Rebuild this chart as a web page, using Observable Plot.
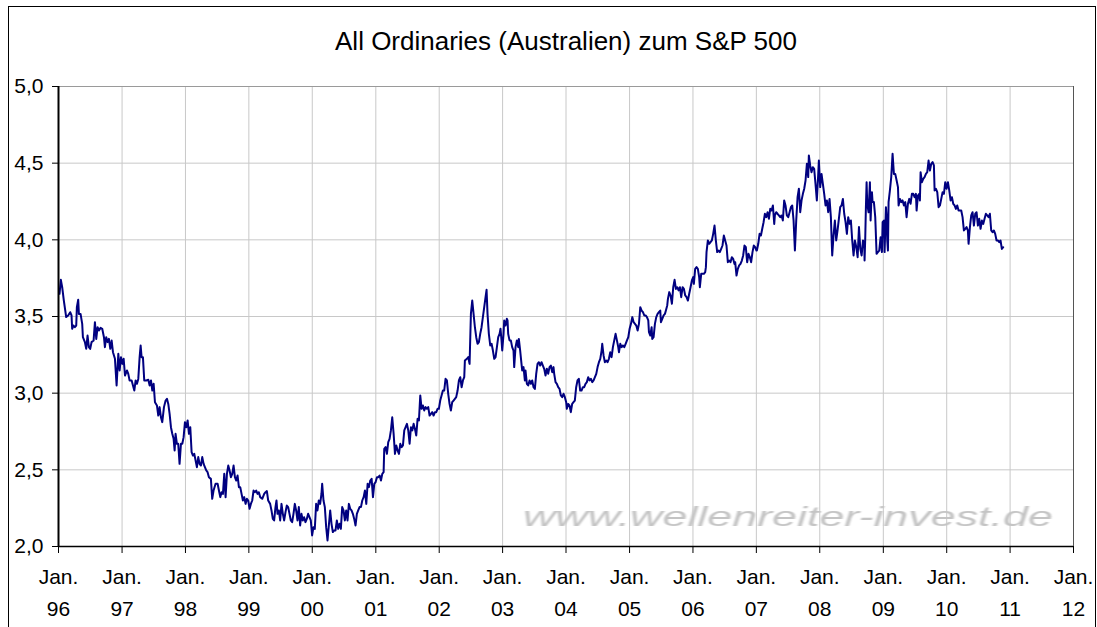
<!DOCTYPE html>
<html>
<head>
<meta charset="utf-8">
<script src="https://cdn.jsdelivr.net/npm/d3@7"></script>
<script src="https://cdn.jsdelivr.net/npm/@observablehq/plot@0.6"></script>
<style>
  html, body { margin: 0; padding: 0; background: #fff; }
  #wrap { position: relative; width: 1097px; height: 627px; overflow: hidden; background: #fff;
          font-family: "Liberation Sans", Arial, sans-serif; }
  .frame { position: absolute; left: 8px; top: 6px; width: 1086px; height: 700px; border: 1px solid #000;
           box-sizing: content-box; pointer-events: none; }
  .title { height: 60px; box-sizing: border-box; padding-top: 26px; padding-left: 35px; line-height: 30px;
           font-size: 26px; text-align: center; color: #000; white-space: nowrap; }
  #chart svg { display: block; }
  .wm { position: absolute; left: 523px; top: 503px; font-size: 27.5px; line-height: 27px; font-style: italic;
        color: #c4c4c4; transform: scaleX(1.63); transform-origin: 0 0; white-space: nowrap;
        filter: blur(0.5px); pointer-events: none; }
</style>
</head>
<body>
<div id="wrap">
  <div class="frame"></div>
  <div class="title">All Ordinaries (Australien) zum S&amp;P 500</div>
  <div id="chart"></div>
  <div class="wm">www.wellenreiter-invest.de</div>
</div>
<script>
// Ratio All Ordinaries / S&P 500, [decimal year, value]
const ratio1996to1999 = [
[1996.016,3.648],[1996.037,3.739],[1996.058,3.691],[1996.084,3.604],[1996.121,3.496],[1996.152,3.507],[1996.184,3.528],[1996.205,3.507],[1996.215,3.420],[1996.236,3.441],
[1996.257,3.430],[1996.279,3.441],[1996.289,3.561],[1996.310,3.609],[1996.321,3.517],[1996.347,3.517],[1996.373,3.452],[1996.384,3.365],[1996.415,3.333],[1996.436,3.289],
[1996.457,3.376],[1996.478,3.300],[1996.499,3.289],[1996.520,3.333],[1996.552,3.343],[1996.573,3.463],[1996.594,3.354],[1996.615,3.430],[1996.636,3.409],[1996.662,3.426],
[1996.688,3.420],[1996.715,3.365],[1996.730,3.300],[1996.751,3.365],[1996.772,3.333],[1996.793,3.354],[1996.815,3.289],[1996.836,3.343],[1996.857,3.267],[1996.888,3.224],
[1996.914,3.050],[1996.941,3.257],[1996.962,3.148],[1996.983,3.235],[1997.004,3.191],[1997.025,3.224],[1997.046,3.115],[1997.077,3.148],[1997.098,3.126],[1997.119,3.083],
[1997.151,3.083],[1997.172,3.050],[1997.193,3.017],[1997.214,3.083],[1997.235,3.061],[1997.256,3.093],[1997.277,3.235],[1997.293,3.311],[1997.308,3.235],[1997.329,3.235],
[1997.350,3.083],[1997.382,3.083],[1997.414,3.087],[1997.435,3.050],[1997.456,3.083],[1997.477,3.017],[1997.498,3.061],[1997.519,2.941],[1997.550,2.920],[1997.571,2.854],
[1997.592,2.909],[1997.613,2.843],[1997.634,2.811],[1997.661,2.909],[1997.687,2.952],[1997.708,2.963],[1997.729,2.930],[1997.750,2.865],[1997.771,2.778],[1997.792,2.735],
[1997.813,2.702],[1997.829,2.626],[1997.844,2.735],[1997.865,2.670],[1997.886,2.670],[1997.907,2.539],[1997.929,2.670],[1997.950,2.670],[1997.971,2.713],[1997.992,2.811],
[1998.013,2.778],[1998.034,2.822],[1998.055,2.735],[1998.076,2.778],[1998.097,2.615],[1998.118,2.593],[1998.139,2.604],[1998.160,2.561],[1998.181,2.517],[1998.202,2.583],
[1998.223,2.539],[1998.244,2.528],[1998.265,2.583],[1998.286,2.539],[1998.307,2.517],[1998.328,2.496],[1998.349,2.485],[1998.370,2.452],[1998.401,2.441],[1998.422,2.311],
[1998.443,2.365],[1998.475,2.409],[1998.507,2.409],[1998.528,2.365],[1998.549,2.322],[1998.570,2.354],[1998.591,2.343],[1998.612,2.474],[1998.633,2.322],[1998.654,2.474],
[1998.675,2.528],[1998.696,2.496],[1998.717,2.452],[1998.738,2.474],[1998.759,2.528],[1998.780,2.452],[1998.801,2.430],[1998.822,2.463],[1998.843,2.387],[1998.864,2.387],
[1998.885,2.343],[1998.906,2.300],[1998.927,2.322],[1998.948,2.278],[1998.969,2.311],[1998.990,2.300],[1999.011,2.246],[1999.032,2.278],[1999.053,2.300],[1999.074,2.365],
[1999.095,2.354],[1999.116,2.365],[1999.137,2.343],[1999.158,2.354],[1999.179,2.322],[1999.211,2.311],[1999.242,2.343],[1999.263,2.354]
];
const ratio1999to2002 = [
[1999.284,2.361],[1999.305,2.300],[1999.336,2.278],[1999.357,2.235],[1999.378,2.180],[1999.399,2.170],[1999.420,2.257],[1999.436,2.300],[1999.452,2.213],[1999.473,2.235],
[1999.494,2.170],[1999.515,2.278],[1999.536,2.213],[1999.557,2.170],[1999.578,2.224],[1999.599,2.267],[1999.620,2.257],[1999.641,2.213],[1999.662,2.170],[1999.683,2.159],
[1999.704,2.213],[1999.725,2.278],[1999.746,2.235],[1999.767,2.170],[1999.788,2.257],[1999.809,2.137],[1999.830,2.213],[1999.851,2.170],[1999.872,2.191],[1999.893,2.159],
[1999.914,2.180],[1999.935,2.213],[1999.956,2.191],[1999.977,2.170],[1999.998,2.072],[2000.019,2.126],[2000.040,2.115],[2000.061,2.278],[2000.082,2.235],[2000.103,2.300],
[2000.124,2.278],[2000.145,2.344],[2000.156,2.409],[2000.177,2.300],[2000.198,2.257],[2000.219,2.126],[2000.240,2.039],[2000.261,2.137],[2000.282,2.235],[2000.303,2.148],
[2000.324,2.094],[2000.345,2.105],[2000.366,2.105],[2000.387,2.170],[2000.408,2.115],[2000.429,2.148],[2000.450,2.115],[2000.471,2.257],[2000.492,2.235],[2000.513,2.170],
[2000.534,2.235],[2000.555,2.170],[2000.576,2.278],[2000.597,2.246],[2000.618,2.235],[2000.639,2.213],[2000.660,2.180],[2000.681,2.137],[2000.702,2.213],[2000.723,2.235],
[2000.744,2.257],[2000.766,2.257],[2000.787,2.300],[2000.808,2.322],[2000.829,2.365],[2000.850,2.278],[2000.871,2.409],[2000.892,2.387],[2000.913,2.430],[2000.934,2.441],
[2000.955,2.322],[2000.976,2.409],[2000.997,2.420],[2001.018,2.452],[2001.039,2.452],[2001.060,2.463],[2001.081,2.430],[2001.102,2.474],[2001.123,2.485],[2001.133,2.637],
[2001.154,2.648],[2001.175,2.604],[2001.196,2.680],[2001.217,2.702],[2001.238,2.757],[2001.259,2.843],[2001.281,2.735],[2001.302,2.604],[2001.323,2.659],[2001.344,2.626],
[2001.365,2.604],[2001.386,2.670],[2001.407,2.648],[2001.428,2.659],[2001.449,2.757],[2001.470,2.778],[2001.491,2.800],[2001.512,2.757],[2001.533,2.670],[2001.554,2.778],
[2001.575,2.757],[2001.596,2.800],[2001.617,2.767],[2001.638,2.724],[2001.659,2.833],[2001.680,2.822],[2001.701,2.985],[2001.722,2.898],[2001.743,2.920],[2001.764,2.887],
[2001.785,2.909],[2001.806,2.898],[2001.827,2.909],[2001.848,2.854],[2001.869,2.865],[2001.890,2.876],[2001.911,2.854],[2001.932,2.876],[2001.953,2.876],[2001.974,2.898],
[2001.995,2.898],[2002.016,2.952],[2002.037,2.985],[2002.058,3.017],[2002.079,3.017],[2002.100,3.094],[2002.121,3.083],[2002.142,2.996],[2002.163,2.930],[2002.184,2.887],
[2002.205,2.941],[2002.226,2.952],[2002.247,2.963],[2002.268,2.974],[2002.290,3.017],[2002.311,3.083],[2002.332,3.104],[2002.353,3.039],[2002.374,3.083],[2002.395,3.104]
];
const ratio2002to2005 = [
[2002.405,3.213],[2002.437,3.224],[2002.458,3.235],[2002.479,3.191],[2002.500,3.517],[2002.521,3.604],[2002.542,3.517],[2002.563,3.430],[2002.584,3.365],[2002.605,3.322],
[2002.626,3.333],[2002.647,3.387],[2002.668,3.430],[2002.689,3.496],[2002.710,3.561],[2002.731,3.626],[2002.747,3.674],[2002.762,3.517],[2002.783,3.387],[2002.805,3.311],
[2002.826,3.322],[2002.847,3.278],[2002.868,3.224],[2002.889,3.235],[2002.910,3.300],[2002.931,3.365],[2002.952,3.387],[2002.967,3.420],[2002.983,3.344],[2002.994,3.278],
[2003.015,3.387],[2003.025,3.474],[2003.046,3.441],[2003.067,3.485],[2003.078,3.474],[2003.088,3.387],[2003.109,3.344],[2003.130,3.344],[2003.151,3.300],[2003.172,3.278],
[2003.183,3.170],[2003.204,3.300],[2003.225,3.344],[2003.246,3.300],[2003.256,3.354],[2003.277,3.278],[2003.298,3.191],[2003.309,3.148],[2003.330,3.170],[2003.351,3.083],
[2003.361,3.148],[2003.383,3.061],[2003.404,3.050],[2003.425,3.083],[2003.446,3.061],[2003.467,3.083],[2003.488,3.039],[2003.509,3.028],[2003.530,3.126],[2003.551,3.191],
[2003.572,3.202],[2003.593,3.180],[2003.614,3.202],[2003.635,3.180],[2003.656,3.159],[2003.677,3.115],[2003.698,3.159],[2003.719,3.126],[2003.740,3.170],[2003.761,3.180],
[2003.782,3.137],[2003.803,3.170],[2003.814,3.126],[2003.835,3.072],[2003.856,3.061],[2003.877,3.039],[2003.898,3.028],[2003.919,2.985],[2003.940,2.974],[2003.961,2.996],
[2003.982,2.974],[2004.003,2.941],[2004.013,2.898],[2004.034,2.930],[2004.055,2.920],[2004.076,2.876],[2004.097,2.930],[2004.118,2.941],[2004.139,2.952],[2004.160,3.039],
[2004.181,3.083],[2004.202,3.094],[2004.223,3.017],[2004.244,3.017],[2004.265,3.039],[2004.286,3.039],[2004.307,3.061],[2004.328,3.072],[2004.349,3.104],[2004.370,3.083],
[2004.391,3.094],[2004.413,3.072],[2004.434,3.083],[2004.455,3.104],[2004.476,3.126],[2004.497,3.170],[2004.518,3.202],[2004.539,3.224],[2004.560,3.278],[2004.570,3.322],
[2004.591,3.246],[2004.612,3.202],[2004.633,3.213],[2004.654,3.202],[2004.675,3.224],[2004.696,3.267],[2004.717,3.235],[2004.738,3.300],[2004.759,3.344],[2004.780,3.387],
[2004.801,3.344],[2004.822,3.300],[2004.833,3.267],[2004.854,3.322],[2004.875,3.300],[2004.896,3.311],[2004.917,3.300],[2004.938,3.322],[2004.959,3.344],[2004.980,3.365],
[2005.001,3.420],[2005.022,3.452],[2005.043,3.496],[2005.064,3.463],[2005.085,3.452],[2005.106,3.441],[2005.127,3.409],[2005.148,3.452],[2005.169,3.561],[2005.190,3.539],
[2005.211,3.528],[2005.232,3.507],[2005.253,3.507],[2005.274,3.496],[2005.295,3.474],[2005.306,3.398],[2005.327,3.376],[2005.348,3.430],[2005.358,3.354],[2005.379,3.365],
[2005.400,3.452],[2005.421,3.496],[2005.442,3.517],[2005.463,3.528],[2005.484,3.539],[2005.495,3.463],[2005.516,3.485],[2005.537,3.507],[2005.558,3.517]
];
const ratio2005to2007 = [
[2005.573,3.539],[2005.594,3.572],[2005.605,3.615],[2005.626,3.659],[2005.647,3.637],[2005.668,3.583],[2005.689,3.691],[2005.710,3.739],[2005.731,3.680],[2005.752,3.691],
[2005.773,3.670],[2005.794,3.691],[2005.815,3.626],[2005.836,3.691],[2005.857,3.680],[2005.878,3.637],[2005.899,3.626],[2005.920,3.604],[2005.941,3.648],[2005.962,3.691],
[2005.983,3.735],[2006.004,3.757],[2006.014,3.713],[2006.035,3.811],[2006.056,3.822],[2006.077,3.811],[2006.098,3.757],[2006.109,3.691],[2006.130,3.778],[2006.151,3.778],
[2006.172,3.778],[2006.193,3.789],[2006.204,3.822],[2006.214,3.920],[2006.235,3.996],[2006.256,3.974],[2006.277,3.985],[2006.298,3.996],[2006.319,4.039],[2006.340,4.093],
[2006.361,3.996],[2006.382,3.920],[2006.403,3.930],[2006.424,3.920],[2006.445,3.941],[2006.466,3.963],[2006.487,4.028],[2006.508,3.996],[2006.529,3.963],[2006.550,3.854],
[2006.571,3.865],[2006.592,3.854],[2006.613,3.887],[2006.634,3.876],[2006.655,3.843],[2006.666,3.854],[2006.687,3.767],[2006.708,3.811],[2006.729,3.833],[2006.750,3.843],
[2006.771,3.865],[2006.792,3.898],[2006.813,3.963],[2006.834,3.952],[2006.845,3.898],[2006.855,3.854],[2006.876,3.909],[2006.897,3.887],[2006.918,3.854],[2006.939,3.920],
[2006.960,3.963],[2006.981,3.952],[2007.002,3.930]
];
const ratio2007to2008 = [
[2007.008,3.930],[2007.030,3.974],[2007.051,4.039],[2007.072,4.028],[2007.093,4.072],[2007.114,4.115],[2007.135,4.170],[2007.156,4.148],[2007.177,4.180],[2007.198,4.137],
[2007.219,4.202],[2007.240,4.191],[2007.261,4.224],[2007.282,4.104],[2007.292,4.159],[2007.313,4.180],[2007.334,4.170],[2007.355,4.159],[2007.376,4.148],[2007.397,4.159],
[2007.418,4.126],[2007.439,4.257],[2007.460,4.224],[2007.481,4.159],[2007.503,4.148],[2007.524,4.180],[2007.545,4.213],[2007.566,4.224],[2007.587,4.126],[2007.608,3.930],
[2007.629,4.126],[2007.650,4.278],[2007.671,4.333],[2007.692,4.180],[2007.713,4.257],[2007.734,4.300],[2007.755,4.333],[2007.776,4.387],[2007.797,4.496],[2007.818,4.409],
[2007.828,4.550],[2007.849,4.485],[2007.870,4.441],[2007.891,4.474],[2007.912,4.463],[2007.933,4.365],[2007.954,4.257],[2007.975,4.420],[2007.986,4.517],[2008.007,4.344],
[2008.028,4.430],[2008.049,4.365],[2008.070,4.300],[2008.091,4.224],[2008.112,4.257],[2008.133,4.180],[2008.154,4.267],[2008.175,4.148],[2008.196,3.898],[2008.217,4.028],
[2008.238,4.126],[2008.259,3.996],[2008.280,4.061],[2008.301,4.137],[2008.322,4.213],[2008.343,4.224],[2008.364,4.267],[2008.385,4.170],[2008.406,4.115],[2008.427,4.039],
[2008.448,4.148],[2008.469,4.104],[2008.490,4.126],[2008.511,3.996],[2008.532,3.898],[2008.553,3.996],[2008.575,3.952],[2008.596,3.887],[2008.617,4.083],[2008.638,3.941],
[2008.659,3.898],[2008.680,3.996],[2008.701,3.974]
];
const ratio2008to2010 = [
[2008.705,3.865],[2008.716,4.017],[2008.726,4.213],[2008.737,4.376],[2008.747,4.235],[2008.768,4.180],[2008.789,4.376],[2008.800,4.126],[2008.810,4.235],[2008.821,4.311],
[2008.831,4.246],[2008.852,4.246],[2008.873,4.148],[2008.894,3.909],[2008.915,3.920],[2008.936,3.930],[2008.957,4.017],[2008.978,3.920],[2008.989,4.115],[2009.010,4.126],
[2009.020,3.920],[2009.041,4.213],[2009.052,4.148],[2009.062,3.996],[2009.073,3.930],[2009.083,4.246],[2009.104,4.322],[2009.125,4.409],[2009.146,4.561],[2009.167,4.430],
[2009.188,4.430],[2009.210,4.387],[2009.231,4.344],[2009.241,4.224],[2009.262,4.267],[2009.283,4.246],[2009.304,4.257],[2009.325,4.224],[2009.346,4.246],[2009.367,4.148],
[2009.388,4.235],[2009.409,4.267],[2009.430,4.235],[2009.451,4.300],[2009.472,4.300],[2009.493,4.278],[2009.514,4.300],[2009.525,4.191],[2009.546,4.289],[2009.567,4.300],
[2009.577,4.257],[2009.588,4.441],[2009.609,4.376],[2009.630,4.398],[2009.651,4.409],[2009.672,4.430],[2009.693,4.441],[2009.714,4.517],[2009.735,4.452],[2009.756,4.496],
[2009.777,4.507],[2009.798,4.485],[2009.809,4.322],[2009.830,4.333],[2009.851,4.311],[2009.872,4.213],[2009.893,4.224],[2009.914,4.267],[2009.935,4.311],[2009.956,4.300],
[2009.977,4.376],[2009.998,4.333],[2010.019,4.376],[2010.040,4.322],[2010.061,4.257],[2010.082,4.278],[2010.103,4.235],[2010.124,4.224],[2010.145,4.202],[2010.166,4.224],
[2010.187,4.191],[2010.208,4.191],[2010.229,4.191],[2010.250,4.148],[2010.271,4.061],[2010.292,4.072],[2010.313,4.083],[2010.334,4.061],[2010.345,3.974],[2010.366,4.083],
[2010.387,4.159],[2010.408,4.180],[2010.429,4.093],[2010.450,4.170],[2010.471,4.180],[2010.492,4.093],[2010.513,4.137],[2010.534,4.072],[2010.555,4.126],[2010.576,4.104],
[2010.597,4.137],[2010.618,4.170],[2010.639,4.159],[2010.660,4.148],[2010.681,4.170],[2010.702,4.061],[2010.723,4.050],[2010.744,4.061],[2010.765,4.039],[2010.786,3.996],
[2010.807,3.996],[2010.828,3.985],[2010.849,3.996],[2010.870,3.941],[2010.891,3.952]
];
const xTickYears = [1996,1997,1998,1999,2000,2001,2002,2003,2004,2005,2006,2007,2008,2009,2010,2011,2012];
const yTickValues = [2.0, 2.5, 3.0, 3.5, 4.0, 4.5, 5.0];

function yearToDate(y) {
  const Y = Math.floor(y);
  const a = Date.UTC(Y, 0, 1), b = Date.UTC(Y + 1, 0, 1);
  return new Date(a + (y - Y) * (b - a));
}
const series = [ratio1996to1999, ratio1999to2002, ratio2002to2005, ratio2005to2007, ratio2007to2008, ratio2008to2010]
  .flat().map(([y, v]) => ({date: yearToDate(y), value: v}));
const xTicks = xTickYears.map(y => new Date(Date.UTC(y, 0, 1)));
const xStart = xTicks[0], xEnd = xTicks[xTicks.length - 1];

const chart = Plot.plot({
  width: 1097,
  height: 567,
  marginTop: 26,
  marginBottom: 81,
  marginLeft: 58,
  marginRight: 24,
  style: {fontFamily: '"Liberation Sans", Arial, sans-serif', fontSize: "21px", color: "#000", background: "transparent"},
  x: {type: "utc", domain: [xStart, xEnd]},
  y: {domain: [2, 5]},
  marks: [
    Plot.gridX({ticks: xTicks, stroke: "#c8c8c8", strokeOpacity: 1}),
    Plot.gridY({ticks: yTickValues, stroke: "#c8c8c8", strokeOpacity: 1}),
    Plot.ruleY([5], {stroke: "#9a9a9a"}),
    Plot.ruleX([xEnd], {stroke: "#555"}),
    Plot.axisX({ticks: xTicks, tickSize: 7, tickPadding: 8, label: null, lineHeight: 1.52,
      tickFormat: d => `Jan.\n${String(d.getUTCFullYear()).slice(2)}`}),
    Plot.axisY({ticks: yTickValues, tickSize: 6, tickPadding: 9, label: null,
      tickFormat: d => d3.format(".1f")(d).replace(".", ",")}),
    Plot.line(series, {x: "date", y: "value", stroke: "#000080", strokeWidth: 2}),
    Plot.ruleY([2], {stroke: "#000", strokeWidth: 1.5}),
    Plot.ruleX([xStart], {stroke: "#000", strokeWidth: 2})
  ]
});
document.getElementById("chart").appendChild(chart);
</script>
</body>
</html>
